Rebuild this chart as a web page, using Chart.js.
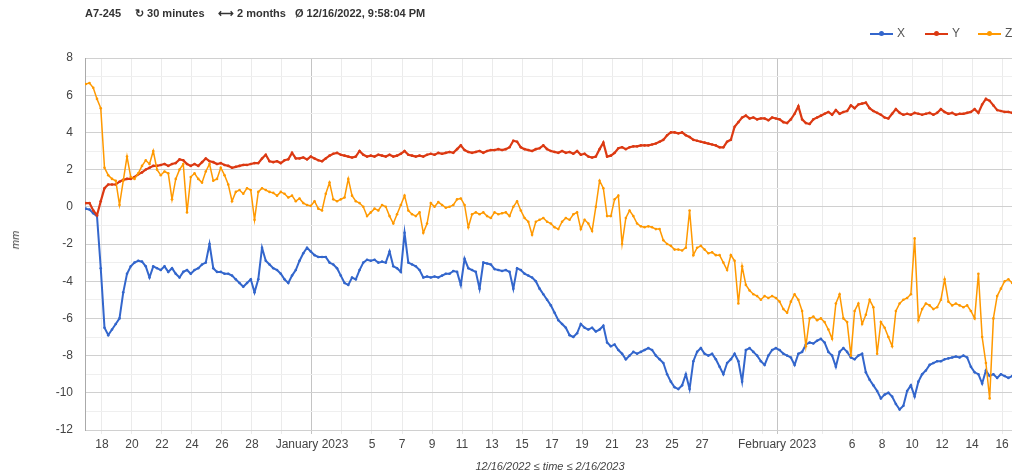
<!DOCTYPE html>
<html><head><meta charset="utf-8">
<script src="https://cdn.jsdelivr.net/npm/chart.js@4.4.0/dist/chart.umd.min.js"></script>
<style>
html,body{margin:0;padding:0;background:#fff;}
#wrap{position:relative;width:1016px;height:475px;font-family:"Liberation Sans",Arial,sans-serif;overflow:hidden;}
canvas{position:absolute;left:0;top:0;}
.hd{position:absolute;top:7px;font-size:11px;font-weight:bold;color:#333;white-space:nowrap;}
.lg{position:absolute;top:26px;height:14px;font-size:12px;color:#555;white-space:nowrap;}
.lg .ln{position:absolute;top:7px;height:1.5px;width:23px;}
.lg .dt{position:absolute;top:5px;left:9px;width:5px;height:5px;border-radius:50%;}
.lg .tx{position:absolute;left:27px;top:0;}
#ytitle{position:absolute;left:15px;top:240px;font-size:11px;font-style:italic;color:#444;transform:translate(-50%,-50%) rotate(-90deg);}
#xtitle{position:absolute;left:550px;top:466px;font-size:11px;font-style:italic;color:#444;transform:translate(-50%,-50%);white-space:nowrap;}
</style></head>
<body>
<div id="wrap">
<canvas id="c" width="1016" height="475"></canvas>
<div class="hd" style="left:85px">A7-245</div>
<div class="hd" style="left:135px">↻ 30 minutes</div>
<div class="hd" style="left:218px">⟷ 2 months</div>
<div class="hd" style="left:295px">Ø 12/16/2022, 9:58:04 PM</div>
<div class="lg" style="left:870px;width:40px"><div class="ln" style="background:#3366cc"></div><div class="dt" style="background:#3366cc"></div><div class="tx">X</div></div>
<div class="lg" style="left:925px;width:40px"><div class="ln" style="background:#dc3912"></div><div class="dt" style="background:#dc3912"></div><div class="tx">Y</div></div>
<div class="lg" style="left:978px;width:40px"><div class="ln" style="background:#ff9900"></div><div class="dt" style="background:#ff9900"></div><div class="tx">Z</div></div>
<div id="ytitle">mm</div>
<div id="xtitle">12/16/2022 ≤ time ≤ 2/16/2023</div>
</div>
<script>
// sampling grid: days since 12/16/2022 00:00, one reading every 6 hours
const firstSample = 0.92;
const sampleStep = 0.25;

const xSeries = [
-0.1,-0.15,-0.35,-0.5,-3.3,-6.5,-6.9,-6.6,-6.3,-6.0,
-4.6,-3.6,-3.2,-3.0,-2.9,-2.95,-3.2,-3.8,-3.2,-3.3,
-3.4,-3.2,-3.5,-3.3,-3.6,-3.8,-3.5,-3.4,-3.6,-3.4,
-3.3,-3.1,-3.0,-2.0,-3.3,-3.5,-3.5,-3.6,-3.6,-3.7,
-3.9,-4.1,-4.3,-4.1,-3.9,-4.6,-3.9,-2.2,-2.9,-3.1,
-3.3,-3.4,-3.6,-3.9,-4.1,-3.7,-3.4,-2.9,-2.5,-2.2,
-2.4,-2.6,-2.7,-2.7,-2.7,-3.0,-3.1,-3.3,-3.7,-4.1,
-4.2,-3.8,-3.9,-3.4,-3.0,-2.85,-2.9,-2.85,-3.0,-2.95,
-3.0,-2.4,-3.2,-3.3,-3.5,-1.4,-3.0,-3.1,-3.2,-3.4,
-3.8,-3.75,-3.8,-3.75,-3.8,-3.7,-3.6,-3.6,-3.45,-3.5,
-4.2,-2.8,-3.3,-3.4,-3.5,-4.4,-3.0,-3.05,-3.1,-3.35,
-3.4,-3.45,-3.4,-3.5,-4.4,-3.3,-3.4,-3.6,-3.7,-3.8,
-4.0,-4.4,-4.7,-5.0,-5.3,-5.7,-6.1,-6.3,-6.5,-6.9,
-7.0,-6.8,-6.3,-6.5,-6.6,-6.5,-6.7,-6.6,-6.4,-7.3,
-7.5,-7.4,-7.7,-7.9,-8.2,-8.0,-7.8,-7.9,-7.8,-7.7,
-7.6,-7.7,-8.0,-8.2,-8.4,-9.0,-9.4,-9.7,-9.8,-9.6,
-9.0,-9.8,-8.3,-7.8,-7.6,-7.9,-8.0,-7.9,-8.2,-8.6,
-9.0,-8.4,-8.2,-7.9,-8.3,-9.4,-7.7,-7.6,-7.8,-8.0,
-8.3,-8.5,-8.0,-7.7,-7.6,-7.7,-7.9,-8.0,-8.1,-8.5,
-7.9,-7.8,-7.4,-7.3,-7.35,-7.2,-7.1,-7.3,-7.8,-8.0,
-8.6,-7.8,-7.6,-7.8,-8.1,-8.2,-8.0,-7.9,-8.9,-9.3,
-9.6,-9.9,-10.3,-10.1,-10.0,-10.2,-10.6,-10.9,-10.7,-9.9,
-9.6,-10.2,-9.4,-9.0,-8.8,-8.5,-8.4,-8.3,-8.3,-8.2,
-8.15,-8.1,-8.05,-8.1,-8.0,-8.1,-8.6,-8.9,-9.0,-9.5,
-8.8,-9.1,-9.0,-9.2,-9.0,-9.1,-9.2,-9.1
];

const ySeries = [
0.2,0.2,-0.2,-0.45,0.3,1.0,1.2,1.2,1.2,1.35,
1.45,1.5,1.5,1.6,1.75,1.85,2.0,2.1,2.2,2.2,
2.25,2.3,2.2,2.3,2.35,2.55,2.5,2.3,2.2,2.3,
2.2,2.4,2.6,2.45,2.4,2.3,2.35,2.25,2.2,2.1,
2.15,2.2,2.25,2.25,2.3,2.35,2.35,2.6,2.8,2.45,
2.4,2.45,2.35,2.5,2.55,2.9,2.6,2.6,2.65,2.55,
2.7,2.6,2.5,2.45,2.6,2.75,2.85,2.9,2.8,2.75,
2.7,2.65,2.7,3.0,2.8,2.7,2.75,2.7,2.8,2.75,
2.7,2.8,2.7,2.75,2.85,3.0,2.8,2.75,2.7,2.75,
2.7,2.8,2.85,2.8,2.9,2.85,2.9,2.95,2.9,3.1,
3.3,3.05,2.95,2.9,2.95,3.0,2.9,3.0,3.05,3.05,
3.1,3.05,3.1,3.2,3.55,3.5,3.2,3.1,3.05,3.0,
3.1,3.15,3.3,3.1,3.0,2.95,2.9,3.0,2.9,2.95,
2.85,3.0,2.8,2.85,2.7,2.65,2.7,3.1,3.45,2.7,
2.75,2.9,3.15,3.2,3.1,3.2,3.25,3.25,3.3,3.3,
3.3,3.35,3.4,3.5,3.6,3.85,4.0,4.0,3.95,4.0,
3.85,3.75,3.6,3.55,3.5,3.45,3.4,3.35,3.3,3.2,
3.2,3.5,3.6,4.3,4.55,4.8,4.9,4.75,4.8,4.7,
4.75,4.75,4.65,4.8,4.75,4.7,4.55,4.5,4.7,5.0,
5.4,4.7,4.5,4.45,4.7,4.8,4.9,5.0,5.1,4.95,
5.2,5.0,5.1,5.15,5.45,5.3,5.5,5.55,5.6,5.3,
5.15,5.05,4.95,4.8,4.75,5.0,5.25,5.05,4.95,5.0,
4.95,5.05,5.0,4.95,5.0,5.05,4.95,5.05,5.25,5.1,
5.0,5.05,4.95,5.0,5.0,5.05,5.1,5.25,5.05,5.5,
5.8,5.7,5.45,5.2,5.15,5.1,5.1,5.05
];

const zSeries = [
6.6,6.65,6.4,5.8,5.3,2.1,1.7,1.5,1.4,0.1,
1.4,2.7,1.6,1.5,1.8,2.2,2.5,2.3,3.0,2.0,
1.7,1.9,1.8,0.4,1.5,2.0,2.3,-0.3,1.6,1.8,
1.5,1.3,1.9,2.3,1.4,1.5,2.1,1.7,1.2,0.3,
0.8,0.9,0.7,1.0,0.9,-0.7,0.8,1.0,0.9,0.8,
0.75,0.6,0.8,0.7,0.5,0.6,0.3,0.45,0.2,0.1,
0.05,0.3,-0.1,-0.2,0.7,1.3,0.4,0.3,0.4,0.5,
1.5,0.6,0.3,0.2,0.0,-0.5,-0.3,-0.1,-0.2,0.1,
0.0,-0.5,-0.9,-0.4,0.1,0.6,-0.2,-0.4,-0.5,-0.3,
-1.4,-0.9,0.2,0.0,0.25,0.1,-0.05,0.0,0.1,0.4,
0.45,0.1,-1.1,-0.4,-0.3,-0.4,-0.3,-0.5,-0.6,-0.3,
-0.4,-0.35,-0.3,-0.5,0.0,0.3,-0.2,-0.6,-0.8,-1.5,
-0.8,-0.7,-0.6,-0.8,-0.9,-1.1,-1.2,-0.8,-0.6,-0.7,
-0.4,-0.3,-1.2,-0.7,-0.9,-1.3,0.0,1.4,1.0,-0.5,
-0.5,0.4,0.6,-2.0,-0.6,-0.2,-0.5,-0.9,-1.05,-1.1,
-1.05,-1.1,-1.2,-1.2,-1.8,-2.0,-2.1,-2.3,-2.3,-2.35,
-2.2,-0.2,-2.6,-2.2,-2.1,-2.3,-2.5,-2.45,-2.6,-2.6,
-3.0,-3.4,-2.6,-2.9,-5.2,-3.2,-4.2,-4.5,-4.7,-4.8,
-5.0,-4.8,-4.9,-4.8,-4.9,-5.1,-5.5,-5.7,-5.1,-4.7,
-5.0,-5.6,-7.5,-6.0,-5.9,-6.1,-6.0,-6.2,-6.6,-7.1,
-5.2,-4.7,-6.0,-6.2,-8.0,-5.6,-5.2,-6.3,-5.8,-5.0,
-5.4,-7.9,-6.2,-6.5,-7.0,-7.5,-5.6,-5.2,-5.0,-4.9,
-4.7,-1.7,-6.1,-5.5,-5.2,-5.3,-5.5,-5.4,-5.0,-3.9,
-5.1,-5.3,-5.2,-5.3,-5.4,-5.3,-5.6,-6.0,-3.6,-7.0,
-8.4,-10.3,-6.0,-4.8,-4.4,-4.0,-3.9,-4.1
];

// x axis ticks (days since 12/16/2022) and their labels
const xTickDays = [2,4,6,8,10,12,14,16,18,20,22,24,26,28,30,32,34,36,38,40,42,44,46,47,48,50,52,54,56,58,60,62];
const xTickLabels = ['18','20','22','24','26','28','','January 2023','','5','7','9','11','13','15','17','19','21','23','25','27','','','February 2023','','','6','8','10','12','14','16'];
const monthTickDays = [16,47];
const yMin = -12, yMax = 8;

const toPoints = s => s.map((v,i)=>({x: firstSample + i*sampleStep, y: v}));
const font = {family:'"Liberation Sans", Arial, sans-serif', size:12};

new Chart(document.getElementById('c'), {
  type:'line',
  data:{datasets:[
    {label:'X', data:toPoints(xSeries), borderColor:'#3366cc', backgroundColor:'#3366cc', borderWidth:2, pointRadius:1.3, pointBorderWidth:0, order:2, tension:0},
    {label:'Y', data:toPoints(ySeries), borderColor:'#dc3912', backgroundColor:'#dc3912', borderWidth:2.2, pointRadius:1.3, pointBorderWidth:0, order:1, tension:0},
    {label:'Z', data:toPoints(zSeries), borderColor:'#ff9900', backgroundColor:'#ff9900', borderWidth:1.5, pointRadius:1.3, pointBorderWidth:0, order:0, tension:0}
  ]},
  options:{
    responsive:false, animation:false, devicePixelRatio:1,
    layout:{padding:{top:58,right:1,left:0,bottom:0}},
    plugins:{legend:{display:false}, tooltip:{enabled:false}, title:{display:false}},
    scales:{
      x:{type:'linear', min:0.87, max:62.66,
        afterBuildTicks:s=>{ s.ticks = xTickDays.map(v=>({value:v})); },
        afterFit:s=>{ s.height = 45; },
        ticks:{autoSkip:false, maxRotation:0, minRotation:0, padding:3, color:'#444', font:font,
          callback:(v)=>{ const k = xTickDays.indexOf(v); return k>=0 ? xTickLabels[k] : ''; }},
        grid:{color:c=> (c.tick && monthTickDays.includes(c.tick.value)) ? '#c4c4c4' : '#ebebeb', tickLength:4, lineWidth:1},
        border:{display:false}
      },
      y:{min:yMin, max:yMax,
        afterFit:s=>{ s.width = 85; },
        ticks:{stepSize:1, autoSkip:false, padding:12, color:'#444', font:font,
          callback:(v)=> (v%2===0 ? String(v) : '')},
        grid:{color:c=> (c.tick && c.tick.value%2===0) ? '#d0d0d0' : '#efefef', drawTicks:false, lineWidth:1},
        border:{display:true, color:'#aaaaaa', width:1}
      }
    }
  }
});
</script>
</body></html>
